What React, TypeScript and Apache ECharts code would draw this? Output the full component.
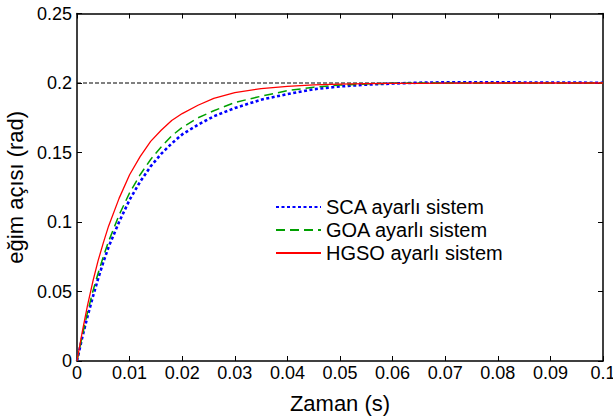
import React, { useEffect, useRef } from "react";
import * as echarts from "echarts";

const timeValues = [0, 0.001, 0.002, 0.003, 0.004, 0.005, 0.006, 0.008, 0.010, 0.012, 0.014, 0.016, 0.018, 0.020, 0.023, 0.026, 0.030, 0.035, 0.040, 0.045, 0.050, 0.055, 0.060, 0.065, 0.070, 0.080, 0.090, 0.100];
const scaValues = [0, 0.017, 0.032, 0.046, 0.059, 0.071, 0.082, 0.100, 0.116, 0.129, 0.140, 0.149, 0.1565, 0.163, 0.170, 0.176, 0.182, 0.188, 0.192, 0.1955, 0.1975, 0.1988, 0.1996, 0.2002, 0.2005, 0.2005, 0.2003, 0.2002];
const goaValues = [0, 0.018, 0.035, 0.050, 0.063, 0.075, 0.086, 0.105, 0.121, 0.134, 0.145, 0.154, 0.162, 0.168, 0.175, 0.180, 0.186, 0.1905, 0.1945, 0.197, 0.1985, 0.1993, 0.1998, 0.2, 0.2, 0.2, 0.2, 0.2];
const hgsoValues = [0, 0.021, 0.040, 0.057, 0.072, 0.085, 0.097, 0.117, 0.134, 0.147, 0.158, 0.166, 0.173, 0.178, 0.184, 0.189, 0.193, 0.196, 0.1976, 0.1987, 0.1992, 0.1995, 0.1997, 0.1998, 0.1999, 0.2, 0.2, 0.2];
const seriesNames = ["SCA ayarlı sistem", "GOA ayarlı sistem", "HGSO ayarlı sistem"];
const referenceLevel = 0.2;
const xTitle = "Zaman (s)";
const yTitle = "eğim açısı (rad)";

const FONT = "'Liberation Sans', Arial, sans-serif";

const pair = (vals: number[]) => timeValues.map((t, i) => [t, vals[i]]);
const fmt = (v: number) => String(Number(v.toFixed(3)));

export default function App() {
  const ref = useRef<HTMLDivElement>(null);
  useEffect(() => {
    if (!ref.current) return;
    const chart = echarts.init(ref.current, null, { renderer: "svg" });
    const axisLine = { show: true, onZero: false, lineStyle: { color: "#000", width: 1.5 } };
    const tickIn = { show: true, inside: true, length: 5, lineStyle: { color: "#000", width: 1 } };
    chart.setOption({
      animation: false,
      backgroundColor: "#fff",
      grid: { left: 77, right: 10, top: 13.5, bottom: 58, outerBoundsMode: "none", containLabel: false },
      legend: {
        orient: "vertical",
        left: 270,
        top: 192,
        itemWidth: 45,
        itemHeight: 14,
        itemGap: 3,
        data: seriesNames,
        itemStyle: { opacity: 0 },
        textStyle: { fontFamily: FONT, fontSize: 20, color: "#000" },
        backgroundColor: "transparent",
      },
      xAxis: [
        {
          type: "value",
          min: 0,
          max: 0.1,
          interval: 0.01,
          name: xTitle,
          nameLocation: "middle",
          nameGap: 31,
          nameTextStyle: { fontFamily: FONT, fontSize: 22, color: "#000" },
          axisLine,
          axisTick: tickIn,
          splitLine: { show: false },
          axisLabel: { fontFamily: FONT, fontSize: 18, color: "#000", margin: 3, formatter: fmt },
        },
        {
          type: "value",
          position: "top",
          min: 0,
          max: 0.1,
          interval: 0.01,
          axisLine,
          axisTick: tickIn,
          axisLabel: { show: false },
          splitLine: { show: false },
        },
      ],
      yAxis: [
        {
          type: "value",
          min: 0,
          max: 0.25,
          interval: 0.05,
          name: yTitle,
          nameLocation: "middle",
          nameGap: 48,
          nameTextStyle: { fontFamily: FONT, fontSize: 22, color: "#000" },
          axisLine,
          axisTick: tickIn,
          splitLine: { show: false },
          axisLabel: { fontFamily: FONT, fontSize: 18, color: "#000", margin: 5, formatter: fmt },
        },
        {
          type: "value",
          position: "right",
          min: 0,
          max: 0.25,
          interval: 0.05,
          axisLine,
          axisTick: tickIn,
          axisLabel: { show: false },
          splitLine: { show: false },
        },
      ],
      series: [
        {
          name: "ref",
          type: "line",
          data: [[0, referenceLevel], [0.1, referenceLevel]],
          symbol: "none",
          lineStyle: { color: "#000", width: 1, type: [4, 2] },
          silent: true,
          z: 1,
        },
        {
          name: seriesNames[0],
          type: "line",
          data: pair(scaValues),
          symbol: "none",
          lineStyle: { color: "#0000ff", width: 2.6, type: [3, 2.5] },
          itemStyle: { color: "#0000ff" },
          z: 3,
        },
        {
          name: seriesNames[1],
          type: "line",
          data: pair(goaValues),
          symbol: "none",
          lineStyle: { color: "#00a000", width: 1.5, type: [9, 5] },
          itemStyle: { color: "#00a000" },
          z: 4,
        },
        {
          name: seriesNames[2],
          type: "line",
          data: pair(hgsoValues),
          symbol: "none",
          lineStyle: { color: "#ff0000", width: 1.3 },
          itemStyle: { color: "#ff0000" },
          z: 5,
        },
      ],
    });
    return () => chart.dispose();
  }, []);
  return <div ref={ref} style={{ width: 613, height: 419, position: "absolute", left: 0, top: 0 }} />;
}
